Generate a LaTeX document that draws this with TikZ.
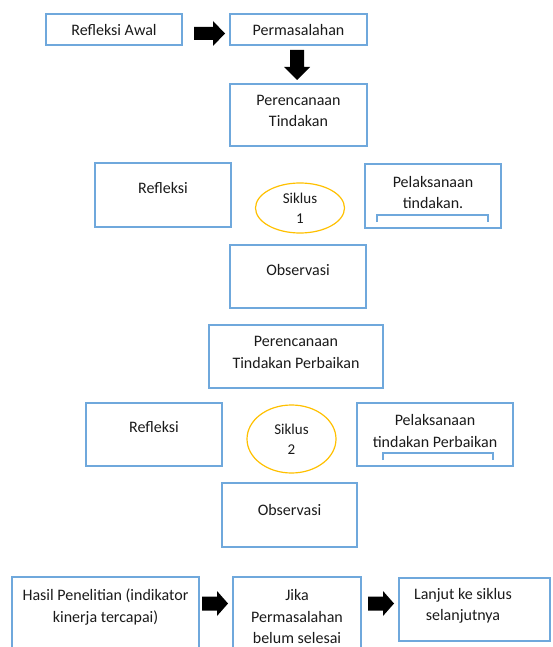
\documentclass[tikz,border=0pt]{standalone}
\usepackage{fontspec}
\setmainfont{Carlito}
\usetikzlibrary{fit,shapes.geometric}
\definecolor{boxblue}{HTML}{6FA8DC}
\definecolor{cyc}{HTML}{FFC000}
\definecolor{txtc}{HTML}{1A1A1A}
\tikzset{
  box/.style={draw=boxblue, line width=1.3pt, inner sep=0pt, rectangle},
  txt/.style={inner sep=0pt, align=center, text=txtc, font=\fontsize{16}{21.5}\selectfont},
  cycle/.style={ellipse, draw=cyc, line width=1.2pt, inner sep=0pt, align=center, text=txtc, font=\fontsize{15}{20}\selectfont},
  bracketline/.style={draw=boxblue, line width=1.1pt},
  pics/barrow/.style n args={4}{code={
    \fill[black] (0,-#3) -- ({#1-#2},-#3) -- ({#1-#2},-#4) -- (#1,0) -- ({#1-#2},#4) -- ({#1-#2},#3) -- (0,#3) -- cycle;}}
}
\newcommand\bx[5]{%
  \coordinate (#1a) at (#2,#3); \coordinate (#1b) at (#4,#5);
  \node[box, fit=(#1a)(#1b)] (#1) {};}
\begin{document}
\begin{tikzpicture}[x=1pt,y=-1pt]
\useasboundingbox (0,0) rectangle (553,647);
\clip (0,0) rectangle (553,647);
% cycle 0
\bx{b1}{46}{14}{182}{45}
\node[txt] (t1) at (114,30.5) {Refleksi Awal};
\bx{b2}{230}{14}{367}{45}
\node[txt] (t2) at (298.5,30.5) {Permasalahan};
\bx{b3}{230}{84}{367}{146}
\node[txt] (t3) at (298.5,111) {Perencanaan\\Tindakan};
\coordinate (a1) at (194,33.5);
\pic at (a1) {barrow={31}{12}{6.5}{12.5}};
\coordinate (a2) at (297,50);
\pic[rotate=-90] at (a2) {barrow={30}{13}{7}{13}};
% cycle 1
\bx{r1}{95}{163}{231}{227}
\node[txt] (t4) at (163,188) {Refleksi};
\node[cycle, minimum width=89pt, minimum height=50pt] (e1) at (300,208) {Siklus\\1};
\bx{p1}{365}{164}{501}{228}
\node[txt] (t5) at (433,192.5) {Pelaksanaan\\tindakan.};
\draw[bracketline] (377,222) -- (377,215) -- (488,215) -- (488,222);
\bx{o1}{230}{245}{366}{308}
\node[txt] (t6) at (298,270) {Observasi};
% cycle 2
\bx{b4}{209}{325}{383}{388}
\node[txt] (t7) at (296,352.5) {Perencanaan\\Tindakan Perbaikan};
\bx{r2}{86}{403}{222}{466}
\node[txt] (t8) at (154,427) {Refleksi};
\node[cycle, minimum width=89pt, minimum height=68pt] (e2) at (291.5,439) {Siklus\\2};
\bx{p2}{357}{403}{513}{466}
\node[txt] (t9) at (435,431) {Pelaksanaan\\tindakan Perbaikan};
\draw[bracketline] (383,460) -- (383,453) -- (493,453) -- (493,460);
\bx{o2}{222}{483}{357}{547}
\node[txt] (t10) at (289.5,510) {Observasi};
% results
\bx{h}{12}{577}{199}{660}
\node[txt] (t11) at (105.5,607) {Hasil Penelitian (indikator\\kinerja tercapai)};
\bx{j}{233}{577}{361}{660}
\node[txt] (t12) at (297,616.5) {Jika\\Permasalahan\\belum selesai};
\bx{l}{399}{578}{550}{641}
\node[txt] (t13) at (463,606) {Lanjut ke siklus\\selanjutnya};
\coordinate (a3) at (202,603.5);
\pic at (a3) {barrow={26}{11}{7}{12.5}};
\coordinate (a4) at (368,603.5);
\pic at (a4) {barrow={26}{11}{7}{12.5}};
\end{tikzpicture}
\end{document}
